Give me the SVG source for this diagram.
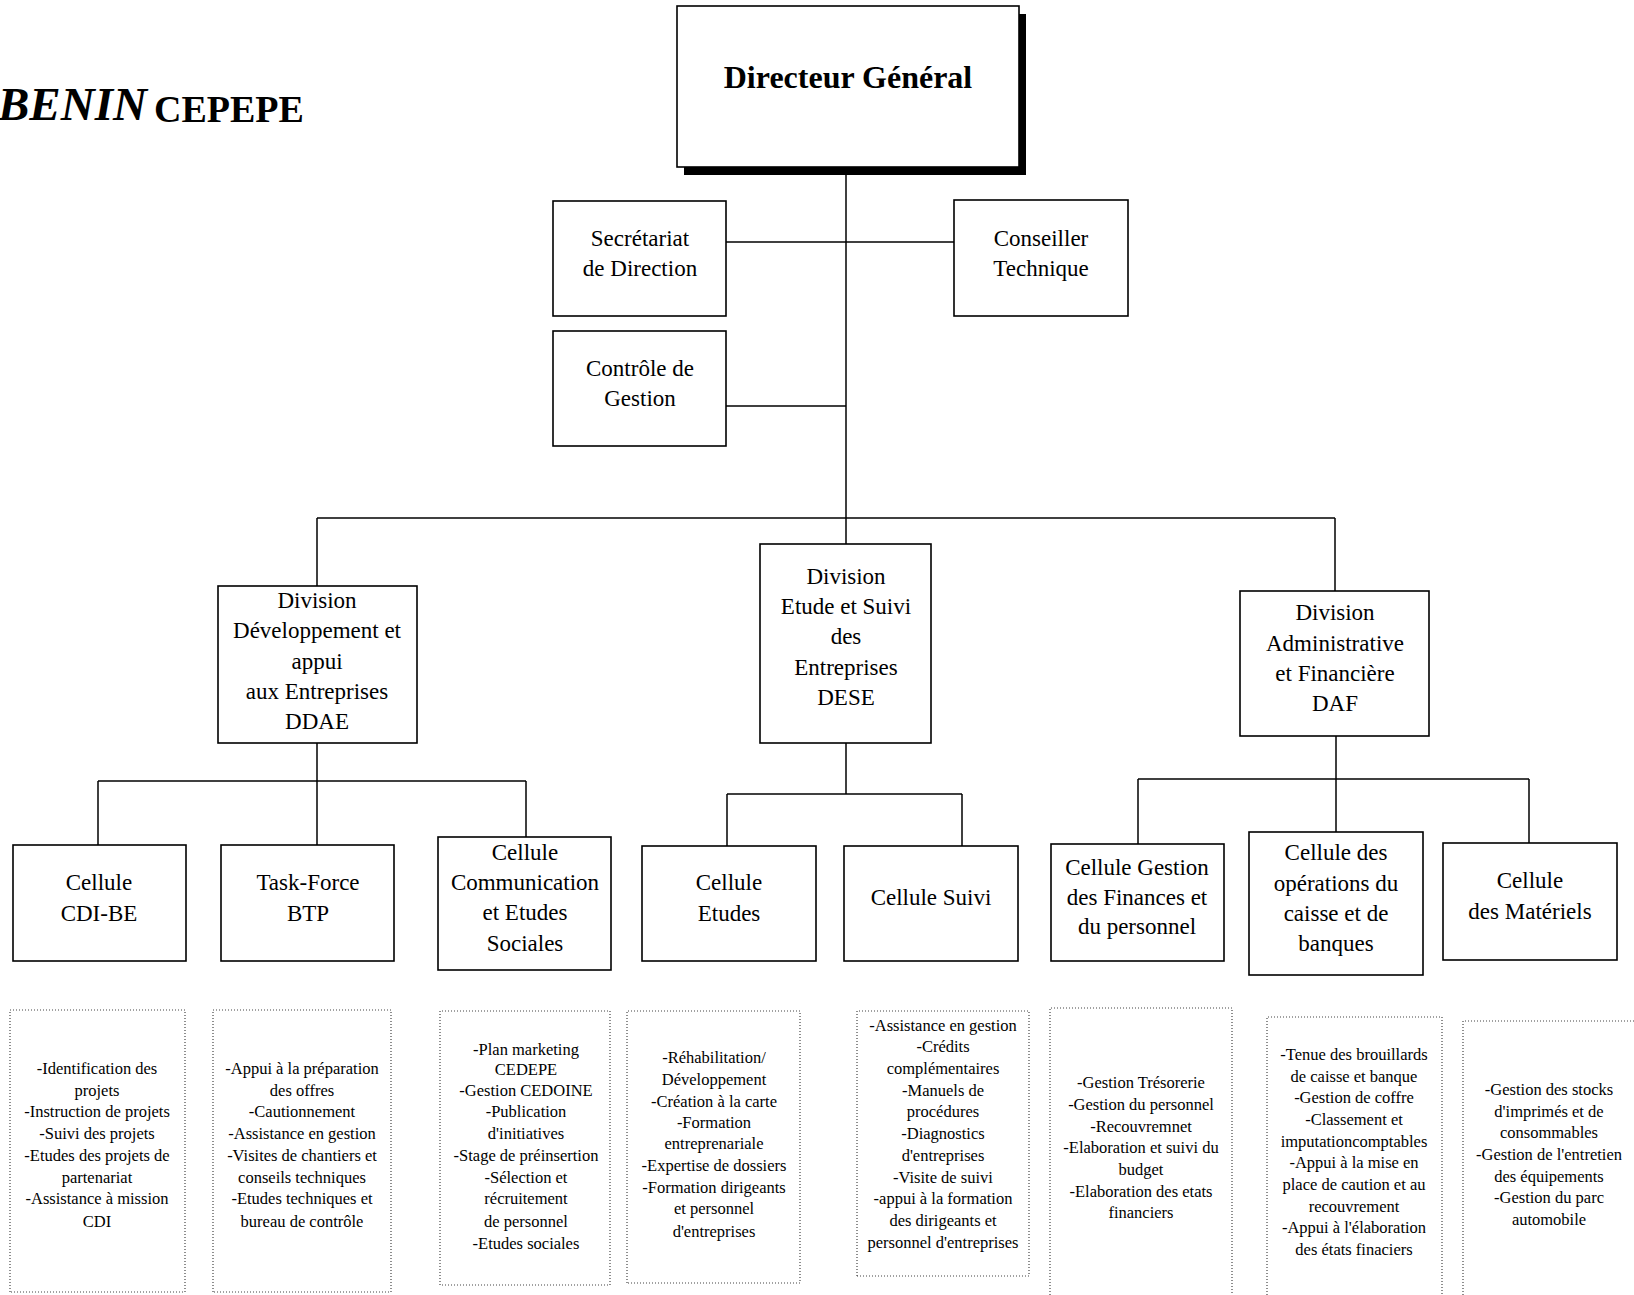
<svg xmlns="http://www.w3.org/2000/svg" width="1634" height="1295" viewBox="0 0 1634 1295">
<style>
.box{fill:#fff;stroke:#000;stroke-width:1.6}
.t{font-family:"Liberation Serif","Times New Roman",serif;font-size:23px;text-anchor:middle;fill:#000}
.dg{font-size:32px;font-weight:bold}
.d{fill:none;stroke:#444;stroke-width:1.2;stroke-dasharray:1 2}
.s{font-family:"Liberation Serif","Times New Roman",serif;font-size:16.5px;text-anchor:middle;fill:#000}
.c{stroke:#000;stroke-width:1.5;fill:none}
.ti{font-family:"Liberation Serif","Times New Roman",serif;font-weight:bold;fill:#000}
</style>
<rect width="1634" height="1295" fill="#fff"/>
<g id="title">
<text class="ti" x="-2" y="120" style="font-size:47px;font-style:italic">BENIN</text>
<text class="ti" x="154" y="122" style="font-size:38px">CEPEPE</text>
</g>
<g id="connectors" class="c">
<path d="M846 175V518"/>
<path d="M726 242H954"/>
<path d="M726 406H846"/>
<path d="M317 518H1335"/>
<path d="M317 518V586"/>
<path d="M846 518V544"/>
<path d="M1335 518V591"/>
<path d="M317 743V845"/>
<path d="M98 781H526"/>
<path d="M98 781V845"/>
<path d="M526 781V837"/>
<path d="M846 743V794"/>
<path d="M727 794H962"/>
<path d="M727 794V846"/>
<path d="M962 794V846"/>
<path d="M1336 736V832"/>
<path d="M1138 779H1529"/>
<path d="M1138 779V844"/>
<path d="M1529 779V843"/>
</g>
<g id="dg">
<rect x="684" y="14" width="342" height="161" fill="#000"/>
<rect class="box" x="677" y="6" width="342" height="161"/>
<text class="t dg" x="848" y="88">Directeur Général</text>
</g>
<g id="secretariat">
<rect class="box" x="553" y="201" width="173" height="115"/>
<text class="t" x="640" y="246">Secrétariat</text>
<text class="t" x="640" y="276">de Direction</text>
</g>
<g id="conseiller">
<rect class="box" x="954" y="200" width="174" height="116"/>
<text class="t" x="1041" y="246">Conseiller</text>
<text class="t" x="1041" y="276">Technique</text>
</g>
<g id="controle">
<rect class="box" x="553" y="331" width="173" height="115"/>
<text class="t" x="640" y="376">Contrôle de</text>
<text class="t" x="640" y="406">Gestion</text>
</g>
<g id="ddae">
<rect class="box" x="218" y="586" width="199" height="157"/>
<text class="t" x="317" y="608">Division</text>
<text class="t" x="317" y="638">Développement et</text>
<text class="t" x="317" y="669">appui</text>
<text class="t" x="317" y="699">aux Entreprises</text>
<text class="t" x="317" y="729">DDAE</text>
</g>
<g id="dese">
<rect class="box" x="760" y="544" width="171" height="199"/>
<text class="t" x="846" y="584">Division</text>
<text class="t" x="846" y="614">Etude et Suivi</text>
<text class="t" x="846" y="644">des</text>
<text class="t" x="846" y="675">Entreprises</text>
<text class="t" x="846" y="705">DESE</text>
</g>
<g id="daf">
<rect class="box" x="1240" y="591" width="189" height="145"/>
<text class="t" x="1335" y="620">Division</text>
<text class="t" x="1335" y="651">Administrative</text>
<text class="t" x="1335" y="681">et Financière</text>
<text class="t" x="1335" y="711">DAF</text>
</g>
<g id="cdi">
<rect class="box" x="13" y="845" width="173" height="116"/>
<text class="t" x="99" y="890">Cellule</text>
<text class="t" x="99" y="921">CDI-BE</text>
</g>
<g id="taskforce">
<rect class="box" x="221" y="845" width="173" height="116"/>
<text class="t" x="308" y="890">Task-Force</text>
<text class="t" x="308" y="921">BTP</text>
</g>
<g id="communication">
<rect class="box" x="438" y="837" width="173" height="133"/>
<text class="t" x="525" y="860">Cellule</text>
<text class="t" x="525" y="890">Communication</text>
<text class="t" x="525" y="920">et Etudes</text>
<text class="t" x="525" y="951">Sociales</text>
</g>
<g id="etudes">
<rect class="box" x="642" y="846" width="174" height="115"/>
<text class="t" x="729" y="890">Cellule</text>
<text class="t" x="729" y="921">Etudes</text>
</g>
<g id="suivi">
<rect class="box" x="844" y="846" width="174" height="115"/>
<text class="t" x="931" y="905">Cellule Suivi</text>
</g>
<g id="gestion">
<rect class="box" x="1051" y="844" width="173" height="117"/>
<text class="t" x="1137" y="875">Cellule Gestion</text>
<text class="t" x="1137" y="905">des Finances et</text>
<text class="t" x="1137" y="934">du personnel</text>
</g>
<g id="operations">
<rect class="box" x="1249" y="832" width="174" height="143"/>
<text class="t" x="1336" y="860">Cellule des</text>
<text class="t" x="1336" y="891">opérations du</text>
<text class="t" x="1336" y="921">caisse et de</text>
<text class="t" x="1336" y="951">banques</text>
</g>
<g id="materiels">
<rect class="box" x="1443" y="843" width="174" height="117"/>
<text class="t" x="1530" y="888">Cellule</text>
<text class="t" x="1530" y="919">des Matériels</text>
</g>
<g id="tasks-cdi">
<path class="d" d="M10 1292V1010H185V1292H10"/>
<text class="s" x="97" y="1074">-Identification des</text>
<text class="s" x="97" y="1096">projets</text>
<text class="s" x="97" y="1117">-Instruction de projets</text>
<text class="s" x="97" y="1139">-Suivi des projets</text>
<text class="s" x="97" y="1161">-Etudes des projets de</text>
<text class="s" x="97" y="1183">partenariat</text>
<text class="s" x="97" y="1204">-Assistance à mission</text>
<text class="s" x="97" y="1227">CDI</text>
</g>
<g id="tasks-btp">
<path class="d" d="M213 1292V1010H391V1292H213"/>
<text class="s" x="302" y="1074">-Appui à la préparation</text>
<text class="s" x="302" y="1096">des offres</text>
<text class="s" x="302" y="1117">-Cautionnement</text>
<text class="s" x="302" y="1139">-Assistance en gestion</text>
<text class="s" x="302" y="1161">-Visites de chantiers et</text>
<text class="s" x="302" y="1183">conseils techniques</text>
<text class="s" x="302" y="1204">-Etudes techniques et</text>
<text class="s" x="302" y="1227">bureau de contrôle</text>
</g>
<g id="tasks-comm">
<path class="d" d="M440 1285V1011H610V1285H440"/>
<text class="s" x="526" y="1055">-Plan marketing</text>
<text class="s" x="526" y="1075">CEDEPE</text>
<text class="s" x="526" y="1096">-Gestion CEDOINE</text>
<text class="s" x="526" y="1117">-Publication</text>
<text class="s" x="526" y="1139">d'initiatives</text>
<text class="s" x="526" y="1161">-Stage de préinsertion</text>
<text class="s" x="526" y="1183">-Sélection et</text>
<text class="s" x="526" y="1204">récruitement</text>
<text class="s" x="526" y="1227">de personnel</text>
<text class="s" x="526" y="1249">-Etudes sociales</text>
</g>
<g id="tasks-etudes">
<path class="d" d="M627 1283V1011H800V1283H627"/>
<text class="s" x="714" y="1063">-Réhabilitation/</text>
<text class="s" x="714" y="1085">Développement</text>
<text class="s" x="714" y="1107">-Création à la carte</text>
<text class="s" x="714" y="1128">-Formation</text>
<text class="s" x="714" y="1149">entreprenariale</text>
<text class="s" x="714" y="1171">-Expertise de dossiers</text>
<text class="s" x="714" y="1193">-Formation dirigeants</text>
<text class="s" x="714" y="1214">et personnel</text>
<text class="s" x="714" y="1237">d'entreprises</text>
</g>
<g id="tasks-suivi">
<path class="d" d="M857 1276V1011H1029V1276H857"/>
<text class="s" x="943" y="1031">-Assistance en gestion</text>
<text class="s" x="943" y="1052">-Crédits</text>
<text class="s" x="943" y="1074">complémentaires</text>
<text class="s" x="943" y="1096">-Manuels de</text>
<text class="s" x="943" y="1117">procédures</text>
<text class="s" x="943" y="1139">-Diagnostics</text>
<text class="s" x="943" y="1161">d'entreprises</text>
<text class="s" x="943" y="1183">-Visite de suivi</text>
<text class="s" x="943" y="1204">-appui à la formation</text>
<text class="s" x="943" y="1226">des dirigeants et</text>
<text class="s" x="943" y="1248">personnel d'entreprises</text>
</g>
<g id="tasks-finances">
<path class="d" d="M1050 1295V1008H1232V1295"/>
<text class="s" x="1141" y="1088">-Gestion Trésorerie</text>
<text class="s" x="1141" y="1110">-Gestion du personnel</text>
<text class="s" x="1141" y="1132">-Recouvremnet</text>
<text class="s" x="1141" y="1153">-Elaboration et suivi du</text>
<text class="s" x="1141" y="1175">budget</text>
<text class="s" x="1141" y="1197">-Elaboration des etats</text>
<text class="s" x="1141" y="1218">financiers</text>
</g>
<g id="tasks-caisse">
<path class="d" d="M1267 1295V1017H1442V1295"/>
<text class="s" x="1354" y="1060">-Tenue des brouillards</text>
<text class="s" x="1354" y="1082">de caisse et banque</text>
<text class="s" x="1354" y="1103">-Gestion de coffre</text>
<text class="s" x="1354" y="1125">-Classement et</text>
<text class="s" x="1354" y="1147">imputationcomptables</text>
<text class="s" x="1354" y="1168">-Appui à la mise en</text>
<text class="s" x="1354" y="1190">place de caution et au</text>
<text class="s" x="1354" y="1212">recouvrement</text>
<text class="s" x="1354" y="1233">-Appui à l'élaboration</text>
<text class="s" x="1354" y="1255">des états finaciers</text>
</g>
<g id="tasks-materiels">
<path class="d" d="M1463 1295V1021H1634"/>
<text class="s" x="1549" y="1095">-Gestion des stocks</text>
<text class="s" x="1549" y="1117">d'imprimés et de</text>
<text class="s" x="1549" y="1138">consommables</text>
<text class="s" x="1549" y="1160">-Gestion de l'entretien</text>
<text class="s" x="1549" y="1182">des équipements</text>
<text class="s" x="1549" y="1203">-Gestion du parc</text>
<text class="s" x="1549" y="1225">automobile</text>
</g>
</svg>
